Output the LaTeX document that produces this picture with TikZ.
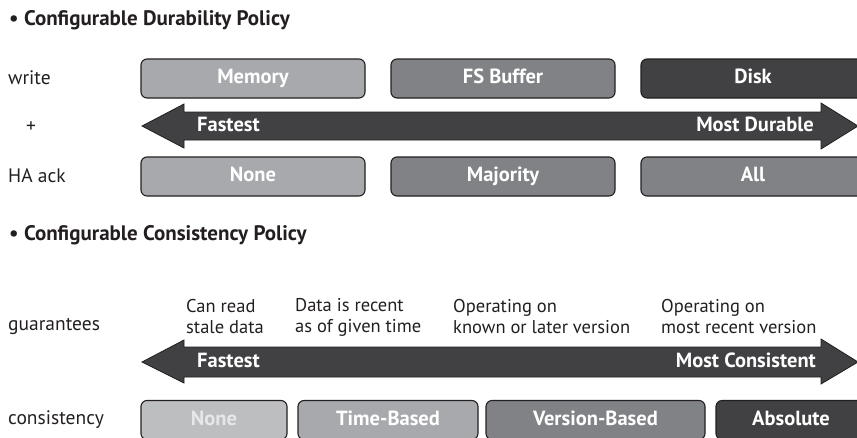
\documentclass[tikz,border=0pt]{standalone}
\usepackage{fontspec}
\setmainfont{PT Sans}
\definecolor{ink}{HTML}{231F20}
\definecolor{pale}{HTML}{BCBEC0}
\definecolor{light}{HTML}{A7A9AC}
\definecolor{mid}{HTML}{808285}
\definecolor{deep}{HTML}{414042}
\definecolor{faint}{HTML}{E6E7E8}
\begin{document}
\begin{tikzpicture}[x=1pt,y=-1pt]
\tikzset{level/.style={draw=ink,line width=1.1pt,rounded corners=6pt,minimum height=39pt,inner sep=0pt,text height=14pt,text depth=4pt,text=white,font=\fontsize{20.5}{24}\selectfont\bfseries}}
\tikzstyle{rowlabel}=[anchor=west,inner sep=0pt,text=ink,font=\fontsize{19.5}{23}\selectfont]
\tikzstyle{heading}=[anchor=west,inner sep=0pt,text=ink,font=\fontsize{21}{24}\selectfont\bfseries]
\tikzstyle{note}=[anchor=west,align=left,inner sep=0pt,text=ink,font=\fontsize{18.5}{21}\selectfont]
\tikzstyle{bigarrow}=[fill=deep,draw=ink,line width=0.8pt,line join=miter]
\tikzstyle{arrowtext}=[inner sep=0pt,text height=14pt,text depth=4pt,text=white,font=\fontsize{20.5}{24}\selectfont\bfseries]
\useasboundingbox (0,0) rectangle (857,437);
\clip (0,0) rectangle (857,437);
% durability
\node[heading] (durtitle)at(9,20){\textbullet\ Configurable Durability Policy};
\node[rowlabel] (write)at(8,78){write};
\node[rowlabel] (plus)at(26,127){+};
\node[rowlabel] (haack)at(8,176){HA ack};
\node[level,fill=light,minimum width=224pt] (memory)at(253,78.5){Memory};
\node[level,fill=mid,minimum width=224pt] (fsbuf)at(503,78.5){FS Buffer};
\node[level,fill=deep,minimum width=224pt] (disk)at(753,78.5){Disk};
\fill[bigarrow] (142,126)--(184,104)--(184,112)--(821,112)--(821,103)--(858,126)
  --(821,149)--(821,140)--(184,140)--(184,148)--cycle;
\node[arrowtext,anchor=west] (fast1)at(197,126){Fastest};
\node[arrowtext,anchor=east] (durable)at(814,126){Most Durable};
\node[level,fill=light,minimum width=224pt] (hanone)at(253,176.5){None};
\node[level,fill=mid,minimum width=224pt] (major)at(503,176.5){Majority};
\node[level,fill=mid,minimum width=224pt] (haall)at(753,176.5){All};
% consistency
\node[heading] (contitle)at(9,235){\textbullet\ Configurable Consistency Policy};
\node[rowlabel] (guar)at(8,326){guarantees};
\node[note] (stale)at(186,317){Can read\\stale data};
\node[note] (recent)at(295,317){Data is recent\\as of given time};
\node[note] (known)at(453,317){Operating on\\known or later version};
\node[note] (newest)at(661,317){Operating on\\most recent version};
\fill[bigarrow] (142,362)--(184,340)--(184,347)--(821,347)--(821,339)--(858,362)
  --(821,384)--(821,377)--(184,377)--(184,383)--cycle;
\node[arrowtext,anchor=west] (fast2)at(197,362){Fastest};
\node[arrowtext,anchor=east] (consist)at(816,362){Most Consistent};
\node[rowlabel] (cons)at(8,420){consistency};
\node[level,fill=pale,text=faint,minimum width=146pt] (cnone)at(214,420){None};
\node[level,fill=light,minimum width=180pt] (timeb)at(388,420){Time-Based};
\node[level,fill=mid,minimum width=219pt] (versb)at(595.5,420){Version-Based};
\node[level,fill=deep,minimum width=150pt] (absol)at(791,420){Absolute};
\end{tikzpicture}
\end{document}
